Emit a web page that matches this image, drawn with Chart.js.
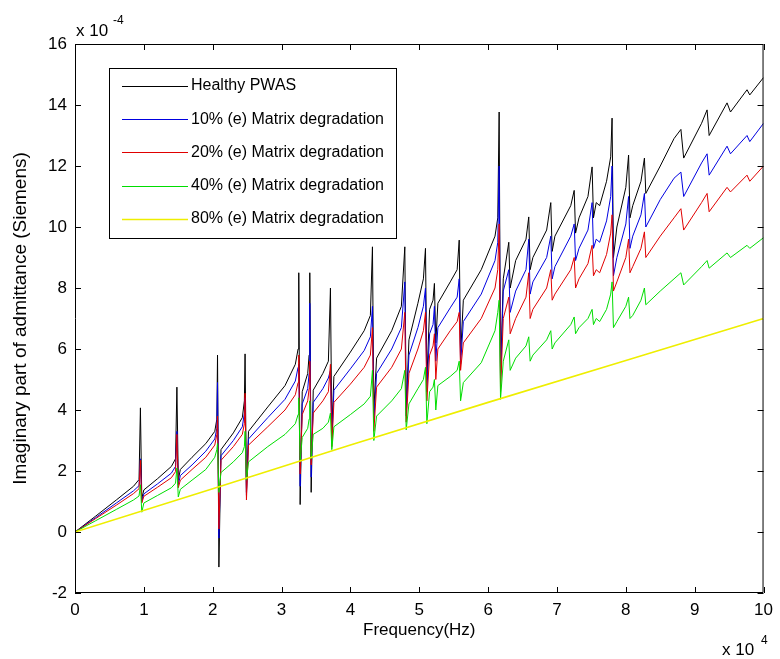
<!DOCTYPE html>
<html>
<head>
<meta charset="utf-8">
<script src="https://cdn.jsdelivr.net/npm/chart.js@4.4.0/dist/chart.umd.min.js"></script>
<style>
  html, body { margin: 0; padding: 0; background: #fff; }
  #wrap { width: 780px; height: 659px; }
</style>
</head>
<body>
<div id="wrap"><canvas id="admChart" width="780" height="659"></canvas></div>
<script>
// frequency in units of 1e4 Hz, admittance in units of 1e-4 S
const freq = [
  0, 0.3, 0.6, 0.85, 0.93, 0.95, 0.97, 1.0, 1.2, 1.4,
  1.46, 1.48, 1.5, 1.53, 1.7, 1.9, 2.03, 2.06, 2.07, 2.09,
  2.12, 2.3, 2.43, 2.46, 2.47, 2.49, 2.52, 2.8, 3.05, 3.2,
  3.24, 3.25, 3.27, 3.3, 3.38, 3.4, 3.41, 3.43, 3.46, 3.6,
  3.68, 3.71, 3.73, 3.76, 4.0, 4.2, 4.29, 4.32, 4.34, 4.38,
  4.6, 4.74, 4.79, 4.81, 4.85, 4.98, 5.06, 5.09, 5.11, 5.15,
  5.2, 5.22, 5.24, 5.27, 5.45, 5.55, 5.58, 5.6, 5.64, 5.9,
  6.1, 6.14, 6.16, 6.18, 6.22, 6.3, 6.32, 6.4, 6.55, 6.59,
  6.61, 6.65, 6.85, 6.91, 6.93, 6.97, 7.2, 7.25, 7.27, 7.32,
  7.45, 7.51, 7.53, 7.57, 7.62, 7.72, 7.78, 7.8, 7.82, 7.87,
  8.0, 8.04, 8.06, 8.1, 8.22, 8.27, 8.29, 8.5, 8.7, 8.8,
  8.84, 9.1, 9.18, 9.21, 9.47, 9.52, 9.76, 9.8, 10
];
const healthy = [
  0, 0.52, 1.05, 1.5, 1.72, 4.07, 1.1, 1.38, 1.75, 2.15,
  2.4, 4.75, 1.7, 2.05, 2.45, 2.9, 3.3, 3.7, 5.8, -1.15,
  2.7, 3.25, 3.75, 4.3, 5.84, 1.3, 3.3, 4.1, 4.8, 5.5,
  6.0, 8.5, 0.9, 4.6, 5.2, 5.8, 8.5, 1.3, 4.65, 5.2,
  5.6, 8.0, 3.3, 5.1, 5.9, 6.6, 7.1, 9.35, 4.0, 5.7,
  6.6, 7.4, 9.35, 4.0, 6.3, 7.5, 8.3, 9.3, 5.0, 7.3,
  7.6, 8.15, 6.2, 7.5, 8.2, 8.6, 9.57, 5.8, 7.6, 8.6,
  9.7, 10.3, 13.77, 5.1, 8.3, 9.5, 8.0, 8.9, 9.6, 10.33,
  8.6, 9.0, 9.9, 10.8, 9.2, 9.7, 10.7, 11.2, 9.8, 10.3,
  11.0, 11.97, 10.3, 10.8, 10.7, 11.5, 12.3, 13.57, 9.0, 10.0,
  11.3, 12.36, 10.3, 10.7, 11.5, 12.26, 11.1, 12.0, 12.9, 13.2,
  12.26, 13.4, 13.84, 13.0, 14.07, 13.77, 14.5, 14.33, 14.9
];
const deg10 = [
  0, 0.47, 0.95, 1.35, 1.52, 2.4, 1.0, 1.25, 1.58, 1.93,
  2.15, 3.3, 1.55, 1.85, 2.2, 2.65, 3.05, 3.4, 4.9, -0.2,
  2.5, 3.0, 3.45, 3.9, 4.4, 1.2, 3.05, 3.75, 4.35, 4.95,
  5.4, 5.5, 1.5, 4.2, 4.7, 5.2, 7.5, 1.8, 4.25, 4.7,
  5.05, 5.3, 3.0, 4.65, 5.35, 5.95, 6.4, 7.4, 3.6, 5.2,
  6.0, 6.7, 8.2, 3.8, 5.8, 6.7, 7.4, 8.0, 4.6, 6.5,
  6.8, 7.4, 5.6, 6.7, 7.35, 7.7, 8.3, 5.5, 6.9, 7.8,
  8.9, 9.5, 12.0, 4.9, 7.9, 8.6, 7.2, 7.9, 8.6, 9.6,
  7.8, 8.2, 9.0, 9.7, 8.3, 8.7, 9.7, 10.1, 8.9, 9.3,
  9.9, 10.8, 9.3, 9.6, 9.5, 10.2, 11.0, 12.0, 8.4, 9.0,
  10.1, 11.0, 9.3, 9.7, 10.4, 11.1, 10.0, 10.9, 11.6, 11.8,
  11.0, 12.1, 12.4, 11.7, 12.65, 12.4, 13.0, 12.8, 13.4
];
const deg20 = [
  0, 0.44, 0.88, 1.26, 1.42, 2.35, 0.95, 1.17, 1.47, 1.78,
  1.98, 3.2, 1.45, 1.7, 2.05, 2.45, 2.85, 3.2, 3.8, 0.1,
  2.35, 2.8, 3.2, 3.55, 4.55, 1.05, 2.85, 3.45, 4.0, 4.5,
  4.9, 5.8, 1.9, 3.85, 4.3, 4.7, 5.6, 2.2, 3.9, 4.3,
  4.6, 5.5, 2.8, 4.25, 4.85, 5.4, 5.8, 6.7, 3.3, 4.75,
  5.4, 6.0, 7.2, 3.6, 5.2, 6.0, 6.6, 7.2, 4.3, 5.8,
  6.1, 6.5, 5.0, 6.0, 6.6, 6.9, 7.2, 5.3, 6.2, 7.0,
  8.0, 8.6, 10.1, 4.6, 7.0, 7.7, 6.5, 7.0, 7.7, 8.5,
  7.0, 7.3, 8.0, 8.6, 7.6, 7.8, 8.6, 9.0, 8.0, 8.3,
  8.8, 9.4, 8.4, 8.6, 8.5, 9.1, 9.8, 10.4, 7.9, 8.2,
  9.0, 9.6, 8.5, 8.7, 9.3, 9.84, 9.0, 9.7, 10.3, 10.6,
  9.9, 10.8, 11.1, 10.5, 11.3, 11.15, 11.7, 11.5, 12.0
];
const deg40 = [
  0, 0.37, 0.74, 1.05, 1.18, 1.55, 0.65, 0.95, 1.2, 1.45,
  1.6, 2.1, 1.15, 1.4, 1.7, 2.05, 2.45, 2.7, 2.9, 1.3,
  1.95, 2.3, 2.6, 2.8, 3.3, 1.7, 2.3, 2.8, 3.2, 3.55,
  3.85, 4.4, 2.3, 3.1, 3.4, 3.7, 4.3, 2.4, 3.2, 3.4,
  3.6, 3.9, 2.7, 3.45, 3.85, 4.2, 4.45, 5.3, 3.0, 3.8,
  4.3, 4.7, 5.3, 3.35, 4.2, 4.7, 5.0, 5.4, 3.55, 4.6,
  4.75, 5.0, 4.0, 4.8, 5.1, 5.3, 5.6, 4.3, 4.9, 5.55,
  6.6, 7.2, 7.6, 4.35, 5.6, 6.3, 5.3, 5.7, 6.1, 6.4,
  5.6, 5.8, 6.3, 6.6, 6.0, 6.2, 6.8, 7.05, 6.5, 6.7,
  7.0, 7.3, 6.8, 7.0, 6.9, 7.3, 7.8, 8.2, 6.7, 6.9,
  7.4, 7.7, 7.0, 7.1, 7.6, 8.0, 7.45, 7.9, 8.3, 8.5,
  8.1, 8.7, 8.9, 8.65, 9.15, 9.0, 9.4, 9.3, 9.65
];
const freq80 = [0, 2, 4, 6, 8, 10];
const deg80 = [0, 1.42, 2.85, 4.25, 5.62, 7.0];

const seriesNames = [
  "Healthy PWAS",
  "10% (e) Matrix degradation",
  "20% (e) Matrix degradation",
  "40% (e) Matrix degradation",
  "80% (e) Matrix degradation"
];
const seriesColors = ["#000000", "#0000e0", "#e00000", "#00dd00", "#eeee00"];

const xTicks = [0, 1, 2, 3, 4, 5, 6, 7, 8, 9, 10];
const yTicks = [-2, 0, 2, 4, 6, 8, 10, 12, 14, 16];

const FONT = '"Liberation Sans", Arial, sans-serif';
Chart.defaults.font.family = FONT;
Chart.defaults.color = "#000";

function toPoints(xs, ys) {
    return xs.map((x, i) => ({ x: x, y: ys[i] }));
}

const allX = [freq, freq, freq, freq, freq80];
const allY = [healthy, deg10, deg20, deg40, deg80];

const datasets = allY.map((ys, i) => ({
    label: seriesNames[i],
    data: toPoints(allX[i], ys),
    borderColor: seriesColors[i],
    borderWidth: i === 4 ? 1.6 : 1,
    pointRadius: 0,
    tension: 0,
    fill: false,
    order: 5 - i   // black underneath, yellow on top
}));

// box, inward tick marks, exponent labels and the legend
const matlabAxes = {
    id: "matlabAxes",
    afterDraw(chart) {
        const ctx = chart.ctx;
        const a = chart.chartArea;
        const xs = chart.scales.x;
        const ys = chart.scales.y;
        const tl = 6;
        ctx.save();
        ctx.strokeStyle = "#000";
        ctx.lineWidth = 1;
        ctx.beginPath();
        ctx.rect(a.left + 0.5, a.top + 0.5, a.right - a.left - 1, a.bottom - a.top - 1);
        ctx.stroke();

        ctx.beginPath();
        xTicks.forEach(v => {
            const px = Math.round(xs.getPixelForValue(v)) + 0.5;
            ctx.moveTo(px, a.bottom); ctx.lineTo(px, a.bottom - tl);
            ctx.moveTo(px, a.top); ctx.lineTo(px, a.top + tl);
        });
        yTicks.forEach(v => {
            const py = Math.round(ys.getPixelForValue(v)) + 0.5;
            ctx.moveTo(a.left, py); ctx.lineTo(a.left + tl, py);
            ctx.moveTo(a.right, py); ctx.lineTo(a.right - tl, py);
        });
        ctx.stroke();

        // scale factors
        ctx.fillStyle = "#000";
        ctx.textBaseline = "alphabetic";
        ctx.textAlign = "left";
        ctx.font = "17px " + FONT;
        ctx.fillText("x 10", 76, 36);
        ctx.fillText("x 10", 722, 655);
        ctx.font = "12px " + FONT;
        ctx.fillText("-4", 113, 24);
        ctx.fillText("4", 761, 644);

        // legend
        const lx = 109, ly = 68, lw = 287, lh = 170;
        ctx.fillStyle = "#fff";
        ctx.fillRect(lx, ly, lw, lh);
        ctx.strokeRect(lx + 0.5, ly + 0.5, lw, lh);
        ctx.font = "16px " + FONT;
        ctx.textBaseline = "middle";
        chart.data.datasets.forEach((ds, i) => {
            const ry = 86 + i * 33.2;
            ctx.strokeStyle = ds.borderColor;
            ctx.lineWidth = i === 4 ? 1.6 : 1;
            ctx.beginPath();
            ctx.moveTo(122, Math.round(ry) + 0.5);
            ctx.lineTo(188, Math.round(ry) + 0.5);
            ctx.stroke();
            ctx.fillStyle = "#000";
            ctx.fillText(ds.label, 191, ry);
        });
        ctx.restore();
    }
};

new Chart(document.getElementById("admChart"), {
    type: "line",
    data: { datasets: datasets },
    options: {
        responsive: false,
        animation: false,
        devicePixelRatio: 1,
        layout: { padding: { top: 44, right: 10, left: 0, bottom: 0 } },
        plugins: { legend: { display: false }, tooltip: { enabled: false } },
        scales: {
            x: {
                type: "linear",
                min: 0,
                max: 10,
                afterFit: s => { s.height = 66; },
                afterBuildTicks: s => { s.ticks = xTicks.map(v => ({ value: v })); },
                grid: { display: false, drawTicks: false },
                border: { display: false },
                ticks: { font: { size: 17 }, padding: 7, maxRotation: 0 },
                title: { display: true, text: "Frequency(Hz)", font: { size: 17 }, padding: { top: 0, bottom: 18 } }
            },
            y: {
                type: "linear",
                min: -2,
                max: 16,
                afterFit: s => { s.width = 75; },
                afterBuildTicks: s => { s.ticks = yTicks.map(v => ({ value: v })); },
                grid: { display: false, drawTicks: false },
                border: { display: false },
                ticks: { font: { size: 17 }, padding: 8 },
                title: { display: true, text: "Imaginary part of admittance (Siemens)", font: { size: 19 }, padding: { top: 9, bottom: 0 } }
            }
        }
    },
    plugins: [matlabAxes]
});
</script>
</body>
</html>
